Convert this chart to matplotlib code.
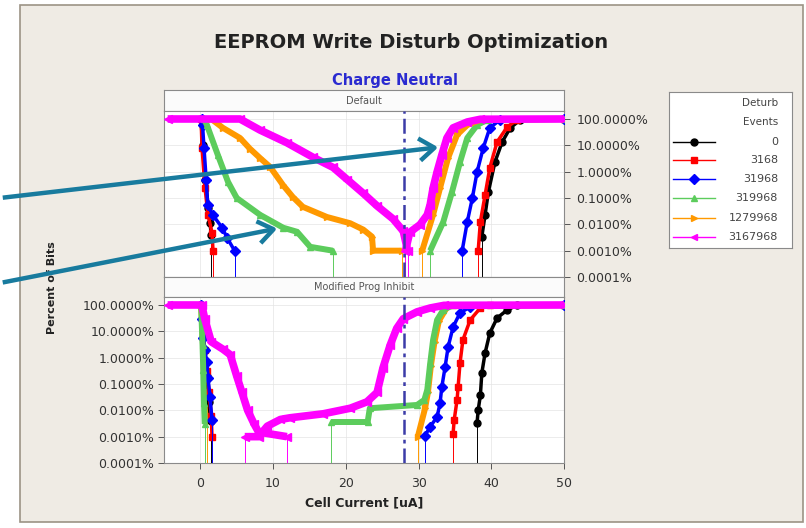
import matplotlib
matplotlib.use("Agg")
import matplotlib.pyplot as plt
from matplotlib.patches import Rectangle, FancyArrowPatch
from matplotlib.ticker import FuncFormatter, FixedLocator, NullLocator

# --- series definitions ---
labels = ["0", "3168", "31968", "319968", "1279968", "3167968"]
colors = ["#000000", "#ff0000", "#0000ff", "#5ccc5c", "#ff9900", "#ff00ff"]
markers = ["o", "s", "D", "^", ">", "<"]

# --- "Default" panel: falling (programmed) branches, x = cell current [uA], p = percent ---
d_black_lo_x = [0.1, 0.3, 0.7, 1.1, 1.33, 1.5]
d_black_lo_p = [100, 10, 0.5, 0.04, 0.011, 0.004]
d_red_lo_x = [0.1, 0.23, 0.64, 1.05, 1.6, 1.74]
d_red_lo_p = [100, 8, 0.24, 0.023, 0.0048, 0.001]
d_blue_lo_x = [0.2, 0.3, 0.5, 0.8, 1.0, 1.7, 3.0, 3.7, 4.7]
d_blue_lo_p = [100, 59, 8, 0.5, 0.056, 0.023, 0.0074, 0.003, 0.001]
d_green_lo_x = [0.5, 0.9, 2.4, 3.8, 5.0, 8.2, 11.4, 13.3, 15.1, 18.2]
d_green_lo_p = [100, 59, 4.3, 0.41, 0.10, 0.023, 0.0074, 0.0052, 0.0014, 0.001]
d_orange_lo_x = [1.5, 3.1, 5.45, 6.8, 8.2, 9.6, 11.4, 12.7, 14.1, 17.4, 20.6, 22.4, 23.6, 23.75, 27.7]
d_orange_lo_p = [100, 46, 19, 7.5, 3.3, 1.5, 0.3, 0.11, 0.046, 0.019, 0.011, 0.0063, 0.0034, 0.001, 0.001]
d_mag_lo_x = [-4.5, 5.45, 8.2, 11.9, 15.5, 18.25, 20.2, 22.4, 24.3, 26.5, 27.9, 28.5]
d_mag_lo_p = [100, 100, 38, 12.5, 3.5, 1.45, 0.5, 0.15, 0.05, 0.016, 0.0055, 0.001]

# --- "Default" panel: rising (erased) branches ---
d_black_hi_x = [38.7, 39.15, 39.6, 40.5, 41.5, 42.6, 44.0, 50]
d_black_hi_p = [0.0034, 0.023, 0.17, 2.3, 13.4, 46, 92, 100]
d_red_hi_x = [38.2, 38.5, 39.15, 39.8, 40.8, 42.2, 43.55, 50]
d_red_hi_p = [0.001, 0.0124, 0.13, 1.4, 13.4, 50, 92, 100]
d_blue_hi_x = [36.0, 36.7, 37.4, 38.05, 38.9, 39.8, 41.2, 50]
d_blue_hi_p = [0.001, 0.0124, 0.10, 0.98, 8.0, 46, 92, 100]
d_green_hi_x = [31.6, 33.4, 34.6, 35.7, 36.7, 38.05, 39.4, 50]
d_green_hi_p = [0.001, 0.0124, 0.17, 2.3, 19, 59, 92, 100]
d_orange_hi_x = [30.5, 32.0, 32.96, 34.06, 35.3, 36.7, 38.5, 50]
d_orange_hi_p = [0.001, 0.023, 0.24, 3.3, 25, 59, 92, 100]
d_mag_hi_x = [28.2, 28.8, 30.2, 31.2, 31.6, 32.0, 32.55, 33.2, 33.9, 34.75, 36.7, 38.5, 50]
d_mag_hi_p = [0.001, 0.005, 0.0097, 0.023, 0.056, 0.24, 0.98, 4.3, 19, 46, 77, 98, 100]

# --- "Modified Prog Inhibit" panel: falling branches ---
m_black_lo_x = [0.1, 0.3, 0.6, 0.9, 1.2, 1.4]
m_black_lo_p = [100, 20, 2, 0.2, 0.02, 0.004]
m_red_lo_x = [0.1, 0.3, 0.6, 0.9, 1.2, 1.5, 1.6]
m_red_lo_p = [100, 20, 2, 0.3, 0.05, 0.006, 0.001]
m_blue_lo_x = [0.1, 0.2, 0.4, 0.6, 0.9, 1.05, 1.33, 1.6]
m_blue_lo_p = [100, 30, 5.6, 1.94, 0.68, 0.17, 0.032, 0.0043]
m_green_lo_x = [0.1, 0.3, 0.4, 0.5, 0.6]
m_green_lo_p = [100, 3, 0.34, 0.019, 0.003]
m_orange_lo_x = [0.1, 0.3, 0.5, 0.7, 0.9]
m_orange_lo_p = [100, 8, 0.4, 0.02, 0.004]
m_mag_lo_x = [-4.5, 0.2, 0.6, 1.5, 3.1, 4.1, 5.0, 5.7, 6.5, 7.4, 8.0, 11.9]
m_mag_lo_p = [100, 100, 30, 4.0, 2.1, 1.3, 0.2, 0.05, 0.01, 0.003, 0.0015, 0.001]

# --- "Modified Prog Inhibit" panel: rising branches ---
m_black_hi_x = [38.05, 38.2, 38.5, 38.7, 39.15, 39.8, 40.8, 42.2, 43.55, 50]
m_black_hi_p = [0.0034, 0.0102, 0.037, 0.26, 1.5, 8.6, 32, 65, 98, 100]
m_red_hi_x = [34.75, 34.9, 35.3, 35.44, 35.7, 36.1, 37.1, 38.5, 39.8, 50]
m_red_hi_p = [0.0013, 0.0043, 0.025, 0.077, 0.62, 4.7, 27, 77, 98, 100]
m_blue_hi_x = [30.9, 31.6, 32.55, 32.96, 33.2, 33.65, 34.06, 34.75, 35.7, 37.1, 50]
m_blue_hi_p = [0.0011, 0.0024, 0.0056, 0.019, 0.077, 0.44, 2.5, 14.6, 50, 84, 100]
m_green_hi_x = [18.0, 23.0, 23.3, 29.8, 30.8, 31.2, 31.6, 32.0, 32.55, 33.4, 34.75, 50]
m_green_hi_p = [0.0036, 0.0036, 0.012, 0.016, 0.025, 0.06, 0.6, 4.7, 27, 65, 98, 100]
m_orange_hi_x = [29.9, 30.9, 31.3, 31.7, 32.2, 32.8, 34.0, 50]
m_orange_hi_p = [0.001, 0.012, 0.05, 0.5, 4, 25, 90, 100]
m_mag_hi_x = [6.1, 8.0, 9.2, 11.0, 12.3, 16.9, 20.6, 22.9, 24.3, 25.1, 26.1, 27.0, 27.9, 29.8, 31.6, 33.5, 50]
m_mag_hi_p = [0.001, 0.001, 0.0025, 0.0045, 0.0052, 0.0074, 0.012, 0.021, 0.048, 0.4, 3.0, 13, 30, 55, 77, 97, 100]

threshold_ua = 28.0
y_ticks = [1e-4, 1e-3, 1e-2, 1e-1, 1, 10, 100]
x_ticks = [0, 10, 20, 30, 40, 50]

default_lo = [(d_black_lo_x, d_black_lo_p), (d_red_lo_x, d_red_lo_p), (d_blue_lo_x, d_blue_lo_p),
              (d_green_lo_x, d_green_lo_p), (d_orange_lo_x, d_orange_lo_p), (d_mag_lo_x, d_mag_lo_p)]
default_hi = [(d_black_hi_x, d_black_hi_p), (d_red_hi_x, d_red_hi_p), (d_blue_hi_x, d_blue_hi_p),
              (d_green_hi_x, d_green_hi_p), (d_orange_hi_x, d_orange_hi_p), (d_mag_hi_x, d_mag_hi_p)]
modified_lo = [(m_black_lo_x, m_black_lo_p), (m_red_lo_x, m_red_lo_p), (m_blue_lo_x, m_blue_lo_p),
               (m_green_lo_x, m_green_lo_p), (m_orange_lo_x, m_orange_lo_p), (m_mag_lo_x, m_mag_lo_p)]
modified_hi = [(m_black_hi_x, m_black_hi_p), (m_red_hi_x, m_red_hi_p), (m_blue_hi_x, m_blue_hi_p),
               (m_green_hi_x, m_green_hi_p), (m_orange_hi_x, m_orange_hi_p), (m_mag_hi_x, m_mag_hi_p)]

# band width / marker size per series (dense data shows as a thick band)
line_w = [2.5, 2.5, 2.5, 4.3, 4.3, 5.5]
mark_s = [5, 5, 5, 5, 5, 5.5]
zord = [3, 3.2, 3.4, 3.6, 3.8, 4.0]

W, H = 806, 528
fig = plt.figure(figsize=(W / 100, H / 100), dpi=100)
fig.patch.set_facecolor("white")


def fx(px):
    return px / W


def fy(py):
    return 1 - py / H


# beige backdrop panel
fig.patches.append(Rectangle((fx(20), fy(522)), fx(803) - fx(20), fy(5) - fy(522),
                             transform=fig.transFigure, facecolor="#efebe4",
                             edgecolor="#9c9385", lw=1.2, zorder=-5))

fig.text(fx(411), fy(43), "EEPROM Write Disturb Optimization", ha="center", va="center",
         fontsize=14, fontweight="bold", color="#222222")
fig.text(fx(395), fy(80), "Charge Neutral", ha="center", va="center",
         fontsize=10.5, fontweight="bold", color="#2a2ad0")


def strip(py_top, py_bot, text):
    s = fig.add_axes([fx(164), fy(py_bot), 400 / W, (py_bot - py_top) / H])
    s.set_facecolor("#fbfbfb")
    s.set_xticks([])
    s.set_yticks([])
    for sp in s.spines.values():
        sp.set_color("#8a8a8a")
        sp.set_linewidth(0.8)
    s.text(0.5, 0.5, text, ha="center", va="center", fontsize=7, color="#555555",
           transform=s.transAxes)


def panel(py_top, los, his, zfix=None):
    ax = fig.add_axes([fx(164), fy(py_top + 166), 400 / W, 166 / H])
    ax.set_facecolor("white")
    ax.set_yscale("log")
    ax.set_xlim(-5, 50)
    ax.set_ylim(1e-4, 201)
    ax.grid(True, color="#e4e4e4", lw=0.5)
    for i in range(len(labels)):
        z = zord[i] if zfix is None else zfix.get(i, zord[i])
        for j, (xs, ps) in enumerate([los[i], his[i]]):
            ax.plot(xs, ps, color=colors[i], lw=line_w[i], marker=markers[i], ms=mark_s[i],
                    mec=colors[i], zorder=z, solid_capstyle="butt")
            k = -1 if j == 0 else 0
            ax.vlines(xs[k], 1e-5, ps[k], color=colors[i], lw=0.7, zorder=z - 0.1)
    ax.axvline(threshold_ua, color="#3c3ca8", lw=1.8, ls=(0, (6, 2, 1.5, 2)), zorder=5)
    ax.yaxis.set_major_locator(FixedLocator(y_ticks))
    ax.yaxis.set_minor_locator(NullLocator())
    ax.yaxis.set_major_formatter(FuncFormatter(lambda v, p: f"{v:.4f}%"))
    ax.xaxis.set_major_locator(FixedLocator(x_ticks))
    for sp in ax.spines.values():
        sp.set_color("#8a8a8a")
        sp.set_linewidth(0.8)
    ax.tick_params(colors="#555555", labelcolor="#333333", labelsize=9, length=4,
                   width=0.7, pad=5)
    return ax


strip(90, 111, "Default")
ax_top = panel(111, default_lo, default_hi)
ax_top.yaxis.tick_right()
ax_top.tick_params(axis="x", length=0, labelbottom=False)

strip(277, 297, "Modified Prog Inhibit")
ax_bot = panel(297, modified_lo, modified_hi, zfix={4: 2.5})
ax_bot.tick_params(axis="y", pad=3)
ax_bot.tick_params(axis="x", pad=6)
ax_bot.set_xlabel("Cell Current [uA]", fontsize=9, fontweight="bold", color="#222222", labelpad=5)

fig.text(fx(52), fy(288), "Percent of Bits", rotation=90, ha="center", va="center",
         fontsize=8, fontweight="bold", color="#222222")

# legend box
lg = fig.add_axes([fx(669), fy(248), 123 / W, 156 / H])
lg.set_facecolor("white")
lg.set_xlim(0, 1)
lg.set_ylim(0, 1)
lg.set_xticks([])
lg.set_yticks([])
for sp in lg.spines.values():
    sp.set_color("#8a8a8a")
    sp.set_linewidth(0.8)
lg.text(0.886, 0.93, "Deturb", ha="right", va="center", fontsize=7.5, color="#444444")
lg.text(0.886, 0.81, "Events", ha="right", va="center", fontsize=7.5, color="#444444")
entry_y = [0.68, 0.564, 0.442, 0.32, 0.192, 0.07]
for i, lab in enumerate(labels):
    lg.plot([0.03, 0.37], [entry_y[i]] * 2, color=colors[i], lw=1.0)
    lg.plot([0.2], [entry_y[i]], color=colors[i], marker=markers[i], ms=5, mec=colors[i])
    lg.text(0.886, entry_y[i], lab, ha="right", va="center", fontsize=8, color="#444444")

# callout arrows
for (x0, y0), (x1, y1) in [((0, 198), (441, 147)), ((0, 283), (280, 228))]:
    arr = FancyArrowPatch((fx(x0), fy(y0)), (fx(x1), fy(y1)), transform=fig.transFigure,
                          arrowstyle="->,head_length=11,head_width=8", mutation_scale=1,
                          color="#187b9e", lw=3.2, zorder=10, capstyle="butt")
    fig.patches.append(arr)

fig.savefig("out.png", dpi=100)
